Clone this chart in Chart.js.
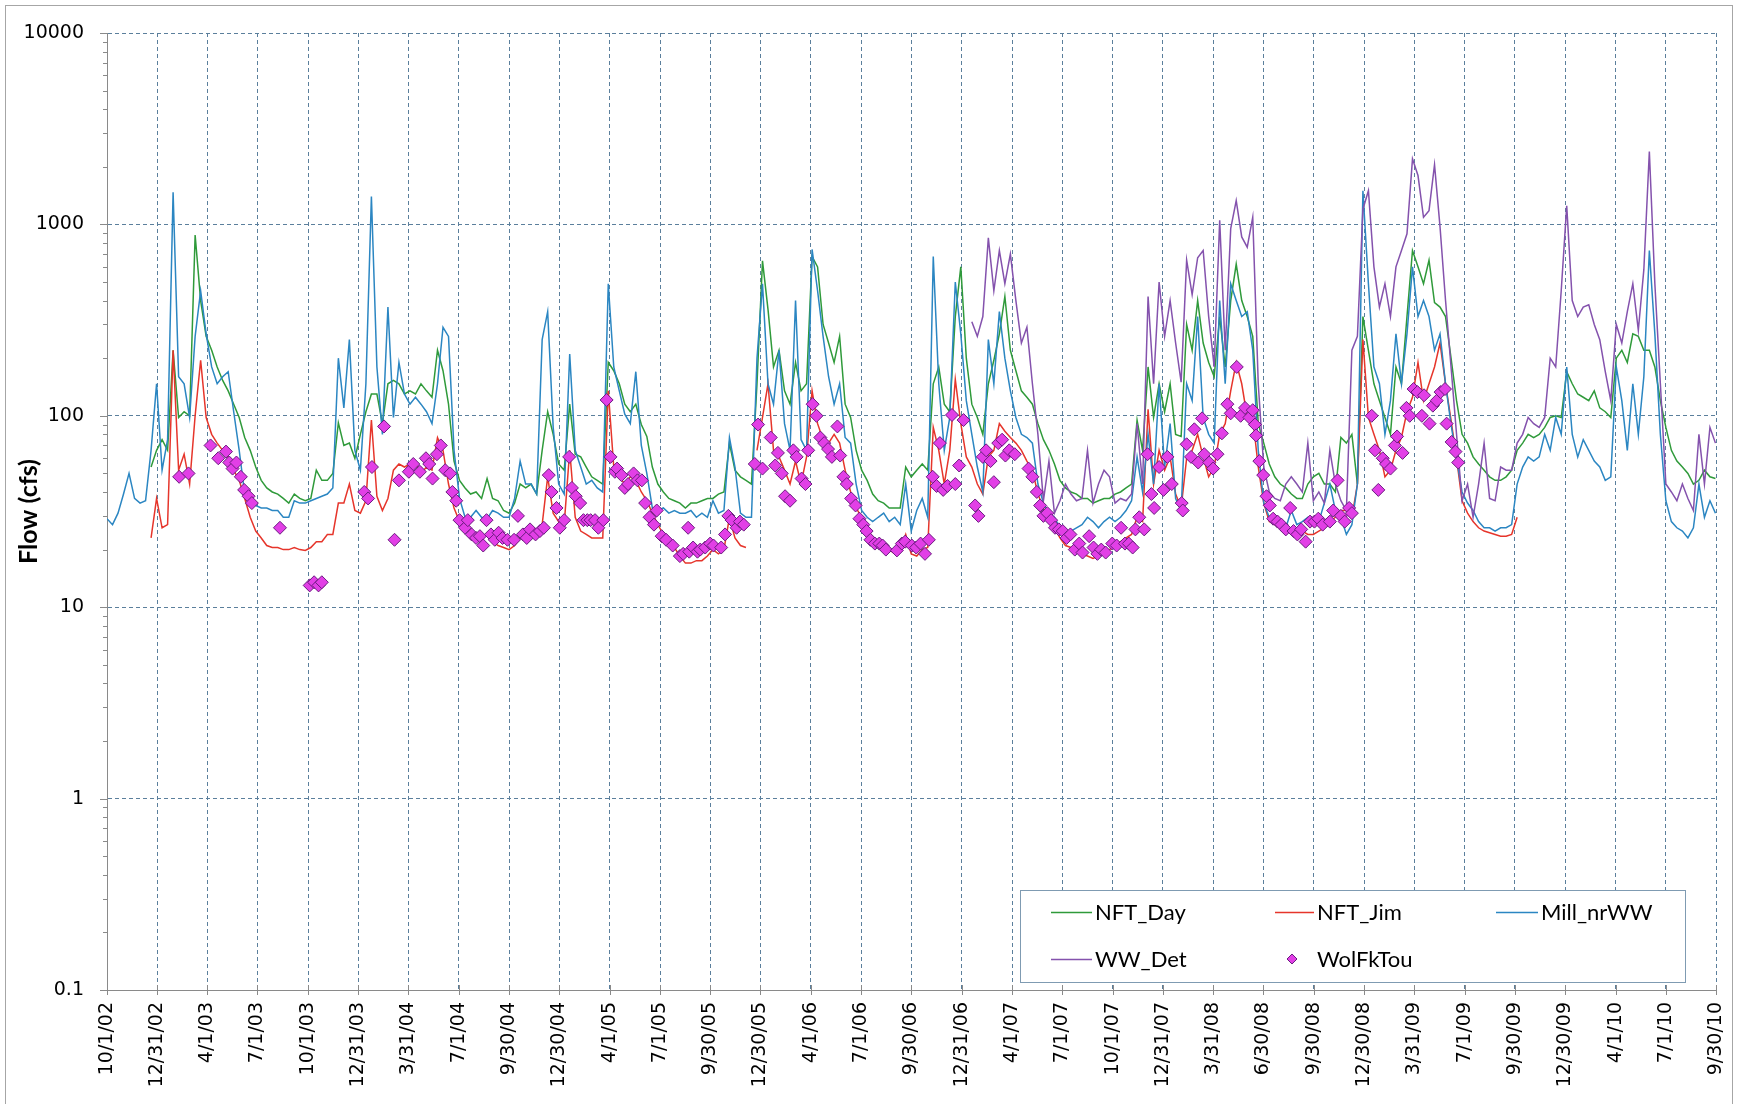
<!DOCTYPE html>
<html>
<head>
<meta charset="utf-8">
<title>Flow (cfs)</title>
<script src="https://cdn.jsdelivr.net/npm/chart.js@4.4.1/dist/chart.umd.min.js"></script>
<style>
  html, body { margin: 0; padding: 0; background: #fff; }
  canvas { display: block; }
</style>
</head>
<body>
<canvas id="flowChart" width="1738" height="1104"></canvas>
<script>
// x axis tick labels (quarterly)
const xTickLabels = ['10/1/02', '12/31/02', '4/1/03', '7/1/03', '10/1/03', '12/31/03', '3/31/04', '7/1/04', '9/30/04',
  '12/30/04', '4/1/05', '7/1/05', '9/30/05', '12/30/05', '4/1/06', '7/1/06', '9/30/06', '12/31/06', '4/1/07',
  '7/1/07', '10/1/07', '12/31/07', '3/31/08', '6/30/08', '9/30/08', '12/30/08', '3/31/09', '7/1/09', '9/30/09',
  '12/30/09', '4/1/10', '7/1/10', '9/30/10'];
const yTicks = [0.1, 1, 10, 100, 1000, 10000];

// sampled every 10 days from 10/1/02; each series starts at its own sample index
const SAMPLE_DAYS = 10;

const millStart = 0;
const millVals = [
  29, 27, 31, 39, 50, 37, 35, 36, 66, 147,
  52, 75, 1470, 160, 147, 98, 260, 450, 268, 180,
  147, 160, 170, 105, 66, 39, 35, 34, 33, 33,
  32, 32, 29.5, 29.5, 36, 35, 35, 36, 37, 38,
  39, 42, 200, 110, 250, 66, 52, 147, 1400, 180,
  80, 370, 98, 190, 130, 115, 125, 115, 105, 91,
  147, 290, 260, 66, 37, 29.5, 29.5, 32, 29.5, 29,
  32, 31, 29.5, 29.5, 37, 58, 44, 44, 39, 250,
  350, 87, 44, 39, 210, 66, 54, 44, 46, 42,
  40, 490, 180, 135, 102, 91, 170, 70, 50, 33,
  32, 33, 31, 32, 31, 31, 32, 29.5, 31, 29.5,
  36, 31, 32, 77, 54, 31, 29.5, 29.5, 200, 490,
  147, 115, 220, 91, 66, 400, 75, 66, 740, 450,
  260, 160, 115, 147, 77, 72, 44, 32, 29.5, 28,
  29.5, 31, 28, 29.5, 27, 44, 25, 32, 37, 29.5,
  680, 147, 66, 98, 500, 268, 120, 80, 54, 40,
  250, 147, 350, 200, 135, 98, 80, 77, 72, 44,
  35, 31, 29.5, 26, 24, 25, 26, 27, 29.5, 28,
  26, 28, 29.5, 28, 29.5, 32, 36, 61, 40, 80,
  44, 147, 54, 91, 37, 32, 147, 120, 330, 98,
  80, 72, 400, 147, 490, 400, 330, 350, 220, 66,
  35, 29.5, 28, 27, 26, 32, 27, 28, 29.5, 27,
  28, 35, 44, 32, 29.5, 24, 27, 44, 1500, 490,
  180, 147, 80, 120, 268, 147, 268, 600, 330, 400,
  330, 220, 268, 147, 90, 60, 40, 35, 32, 28,
  26, 26, 25, 26, 26, 27, 44, 54, 61, 58,
  61, 80, 66, 98, 80, 180, 80, 61, 75, 66,
  58, 54, 46, 48, 180, 120, 66, 147, 80, 160,
  730, 268, 80, 36, 28, 26, 25, 23, 26, 44,
  29.5, 36, 31
];

const nftDayStart = 8;
const nftDayVals = [
  54, 66,
  75, 66, 220, 98, 105, 100, 880, 400, 260, 220,
  180, 153, 135, 115, 98, 77, 66, 54, 46, 42,
  40, 39, 37, 35, 39, 37, 36, 37, 52, 46,
  46, 50, 92, 70, 72, 60, 80, 105, 130, 130,
  91, 147, 153, 147, 130, 135, 130, 147, 135, 125,
  220, 172, 115, 58, 46, 42, 39, 40, 37, 47,
  37, 36, 32, 31, 35, 44, 42, 44, 39, 66,
  105, 80, 56, 52, 115, 63, 61, 54, 48, 46,
  44, 190, 172, 147, 115, 105, 115, 90, 78, 54,
  44, 40, 37, 36, 35, 33, 35, 35, 36, 37,
  37, 39, 40, 72, 52, 48, 46, 44, 147, 645,
  360, 180, 220, 135, 115, 190, 135, 147, 680, 600,
  300, 240, 190, 260, 115, 98, 66, 52, 46, 39,
  36, 35, 33, 33, 33, 54, 48, 52, 56, 52,
  147, 180, 115, 105, 330, 600, 200, 115, 98, 80,
  147, 195, 268, 420, 220, 172, 135, 125, 115, 91,
  75, 66, 56, 46, 42, 40, 39, 37, 37, 35,
  36, 37, 37, 39, 40, 42, 44, 95, 66, 180,
  98, 147, 105, 147, 80, 78, 300, 220, 400, 240,
  190, 160, 330, 180, 400, 620, 400, 330, 260, 91,
  72, 56, 48, 44, 42, 39, 37, 37, 44, 48,
  50, 44, 44, 40, 77, 72, 80, 44, 330, 220,
  147, 120, 98, 80, 180, 147, 330, 730, 600, 490,
  650, 390, 370, 330, 200, 120, 80, 72, 61, 56,
  52, 48, 46, 46, 48, 52, 66, 72, 80, 77,
  80, 87, 98, 100, 98, 170, 147, 130, 125, 120,
  135, 110, 105, 98, 200, 220, 190, 268, 260, 220,
  220, 180, 120, 87, 66, 58, 54, 50, 44, 46,
  52, 48, 47
];

const nftJimStart = 8;
const nftJimVals = [
  23, 37,
  26, 27, 220, 52, 63, 44, 100, 195, 98, 80,
  72, 66, 61, 52, 46, 37, 29.5, 25, 23, 21,
  20.5, 20.5, 20, 20, 20.5, 20, 19.8, 20.5, 22, 22,
  24, 24, 35, 35, 44, 32, 31, 36, 95, 38,
  32, 37, 52, 56, 54, 56, 56, 50, 54, 52,
  77, 66, 44, 33, 28, 26, 24, 23, 23, 24,
  22, 21, 20.5, 20, 21, 23, 23, 24, 24, 27,
  48, 31, 28, 27, 66, 29.5, 25, 24, 23, 23,
  23, 135, 54, 48, 44, 48, 46, 40, 36, 31,
  27, 24, 22, 20.5, 18.5, 17, 17, 17.5, 17.5, 18.5,
  20, 19, 20, 29.5, 23, 21, 20.5, null, 66, 98,
  147, 66, 61, 52, 44, 58, 44, 61, 135, 91,
  75, 72, 80, 72, 52, 40, 33, 29.5, 26, 23,
  21, 20.5, 20, 19, 20, 24, 19, 18.5, 20, 20.5,
  87, 66, 44, 66, 155, 91, 61, 54, 44, 39,
  61, 66, 91, 83, 77, 72, 66, 58, 52, 39,
  33, 28, 26, 23, 21, 20.5, 20, 19, 18.5, 18,
  18.5, 19, 20, 21, 22, 23, 24, 29.5, 28, 108,
  44, 66, 52, 61, 39, 33, 60, 66, 80, 61,
  48, 54, 80, 91, 135, 190, 147, 98, 98, 54,
  35, 28, 27, 26, 25, 25, 24, 25, 24, 24,
  25, 26, 28, 29.5, 32, 32, 29.5, 44, 250, 98,
  80, 66, 48, 52, 66, 77, 105, 125, 190, 120,
  147, 180, 240, 147, 95, 60, 36, 31, 28, 26,
  25, 24.5, 24, 23.5, 23.5, 24, 29.5
];

const wwDetStart = 157;
const wwDetVals = [
  310, 260, 330,
  850, 450, 730, 490, 700, 400, 240, 290, 147, 80,
  36, 58, 31, 36, 44, 39, 36, 37, 66, 35,
  44, 52, 48, 35, 37, 36, 39, 91, 44, 420,
  147, 500, 260, 400, 240, 150, 650, 430, 670, 730,
  330, 180, 1050, 220, 950, 1330, 860, 760, 1090, 147,
  54, 40, 37, 36, 44, 48, 44, 40, 72, 36,
  40, 35, 66, 44, 36, 32, 220, 260, 1200, 1500,
  600, 370, 490, 330, 600, 730, 893, 2200, 1800, 1090,
  1180, 2050, 970, 400, 180, 80, 36, 44, 29.5, 44,
  72, 37, 36, 54, 52, 52, 72, 80, 98, 91,
  87, 98, 200, 180, 450, 1250, 400, 330, 370, 380,
  300, 250, 170, 120, 300, 240, 350, 490, 280, 580,
  2400, 490, 147, 44, 40, 36, 44, 37, 32, 80,
  44, 87, 72
];

// WolFkTou measurements: days after 10/1/02 and flow
const wolfDays = [
  131, 148, 188, 202, 216, 222, 228, 235, 243, 249, 257, 263, 314, 368, 376, 384, 390, 467, 474, 481,
  503, 522, 530, 548, 556, 568, 579, 585, 591, 599, 606, 614, 623, 627, 634, 640, 650, 655, 662, 670,
  677, 683, 689, 697, 704, 711, 718, 727, 739, 746, 755, 762, 768, 778, 786, 793, 802, 807, 816, 822,
  830, 839, 844, 851, 859, 865, 872, 878, 886, 892, 901, 907, 914, 922, 926, 934, 940, 946, 956, 963,
  971, 977, 985, 993, 998, 1007, 1015, 1027, 1040, 1046, 1055, 1057, 1064, 1072, 1077, 1086, 1095, 1101, 1115, 1122,
  1128, 1134, 1143, 1149, 1156, 1176, 1182, 1190, 1205, 1213, 1218, 1225, 1231, 1240, 1246, 1252, 1261, 1268, 1273, 1281,
  1288, 1295, 1302, 1309, 1316, 1326, 1331, 1337, 1343, 1351, 1359, 1366, 1373, 1379, 1386, 1394, 1402, 1408, 1414, 1434,
  1443, 1449,
  1461, 1469, 1477, 1485, 1492, 1499, 1506, 1512, 1518, 1526, 1534, 1540, 1547, 1555, 1576, 1582, 1590, 1596, 1604, 1610,
  1618, 1625, 1631, 1638, 1648, 1673, 1680, 1688, 1694, 1700, 1707, 1714, 1721, 1728, 1735, 1742, 1749, 1757, 1765, 1771,
  1783, 1791, 1798, 1805, 1813, 1825, 1833, 1841, 1848, 1855, 1862, 1867, 1874, 1883, 1889, 1896, 1901, 1910, 1918, 1925,
  1933,
  1951, 1953, 1960, 1968, 1974, 1981, 1988, 1992, 2001, 2008, 2016, 2024, 2034, 2040, 2051, 2058, 2066, 2074, 2080, 2084,
  2086, 2092, 2099, 2105, 2111, 2117, 2125, 2132, 2140, 2148, 2154, 2161, 2168, 2176, 2184, 2192, 2199, 2207, 2220, 2226,
  2234, 2240, 2247, 2255, 2260, 2296, 2302, 2308, 2316, 2322, 2330, 2338, 2342, 2352, 2359, 2365, 2372, 2379, 2387, 2391,
  2401, 2407, 2414, 2421, 2429, 2432, 2441, 2448, 2453
];
const wolfVals = [
  48, 50, 70, 60, 65, 57, 53, 57, 48, 41, 38, 35, 26, 13, 13.5, 13, 13.5, 40, 37, 54,
  88, 22.5, 46, 51, 56, 51, 60, 56, 47, 63, 70, 52, 50, 40, 36, 28.5, 26, 28.5, 24, 23,
  23.5, 21, 28.5, 24, 22.5, 24.5, 23, 22.5, 22.5, 30, 24, 23, 25.5, 24, 25, 26, 49, 40, 33, 26,
  28.5, 61, 42, 38, 35, 28.5, 28.5, 28.5, 28.5, 26, 28.5, 121, 61, 51, 53, 49, 42, 44, 50, 46,
  46, 35, 29.5, 27, 32, 23.5, 22.5, 21, 18.5, 19, 26, 19.5, 20.5, 19.5, 20, 20.5, 21.5, 21, 20.5, 24,
  30, 28.5, 26, 28, 27, 56, 90, 53, 77, 55, 64, 50, 38, 36, 66, 61, 47, 44, 66, 115,
  100, 77, 72, 67, 61, 88, 62, 48, 44, 37, 34, 29, 27, 25, 22.5, 21.5, 21.5, 21, 20, 19.8,
  21.5, 22,
  21, 20.5, 21.5, 19, 22.5, 48, 43, 72, 41, 43, 101, 44, 55, 95, 34, 30, 61, 66, 58, 45,
  72, 75, 62, 66, 63, 53, 48, 40, 34, 30, 31, 28.5, 26, 25.5, 25, 23, 24, 20, 21.5, 19.3,
  23.5, 20.5, 19, 20, 19.3, 21.5, 21, 26, 21.5, 21.5, 20.5, 25.5, 29.5, 25.5, 63, 39, 33, 54, 41, 61,
  44,
  35, 32, 71, 61, 85, 57, 97, 63, 57, 53, 63, 81, 115, 103, 180, 100, 110, 98, 107, 90,
  79, 58, 49, 38, 34, 29, 28, 27, 25.5, 33, 25, 24, 25.5, 22, 28, 28, 29, 27, 28, 32,
  46, 30, 28, 33, 31, 100, 66, 41, 60, 56, 53, 70, 78, 64, 110, 100, 138, 133, 100, 128,
  91, 113, 120, 133, 138, 91, 73, 65, 57
];

// helpers
function dayOf(label) {
  const [m, d, y] = label.split('/').map(Number);
  return Math.round((Date.UTC(2000 + y, m - 1, d) - Date.UTC(2002, 9, 1)) / 86400000);
}
function toPoints(start, vals) {
  return vals.map((v, i) => ({ x: (start + i) * SAMPLE_DAYS, y: v }));
}

const GRID = '#5b7f9c';
const AXIS = '#8a8a8a';
const TICK_FONT = { family: 'DejaVu Sans', size: 19 };

const lineDs = (label, color, data, order) => ({
  label, data, borderColor: color, backgroundColor: color, borderWidth: 1.5,
  pointRadius: 0, fill: false, spanGaps: false, order
});

const datasets = [
  lineDs('NFT_Day', '#2f9a3a', toPoints(nftDayStart, nftDayVals), 4),
  lineDs('NFT_Jim', '#e6352b', toPoints(nftJimStart, nftJimVals), 3),
  lineDs('Mill_nrWW', '#2b86c2', toPoints(millStart, millVals), 2),
  lineDs('WW_Det', '#8452ad', toPoints(wwDetStart, wwDetVals), 1),
  {
    label: 'WolFkTou', data: wolfDays.map((d, i) => ({ x: d, y: wolfVals[i] })),
    showLine: false, pointStyle: 'rectRot', pointRadius: 6.5, pointBorderWidth: 1,
    pointBackgroundColor: '#e23fe6', pointBorderColor: '#6b1c80', order: 0
  }
];

// frame, axis tick marks, y title and the legend box
const decor = {
  id: 'decor',
  beforeDraw(chart) {
    const { ctx, width, height } = chart;
    ctx.save();
    ctx.fillStyle = '#fff';
    ctx.fillRect(0, 0, width, height);
    ctx.strokeStyle = '#a6a6a6';
    ctx.lineWidth = 1;
    ctx.strokeRect(5.5, 5.5, width - 11, height + 20);
    ctx.restore();
  },
  afterDraw(chart) {
    const { ctx, chartArea: a, scales } = chart;
    ctx.save();
    ctx.strokeStyle = AXIS;
    ctx.lineWidth = 1;
    ctx.beginPath();
    // y ticks: decades outside, minor ticks shorter
    yTicks.forEach((dec, i) => {
      const py = Math.round(scales.y.getPixelForValue(dec)) + 0.5;
      ctx.moveTo(a.left - 7, py); ctx.lineTo(a.left, py);
      if (i < yTicks.length - 1) {
        for (let m = 2; m <= 9; m++) {
          const my = Math.round(scales.y.getPixelForValue(dec * m)) + 0.5;
          ctx.moveTo(a.left - 4, my); ctx.lineTo(a.left, my);
        }
      }
    });
    // x ticks cross the axis
    scales.x.ticks.forEach(t => {
      const px = Math.round(scales.x.getPixelForValue(t.value)) + 0.5;
      ctx.moveTo(px, a.bottom - 5); ctx.lineTo(px, a.bottom + 5);
    });
    ctx.stroke();

    // y axis title
    ctx.save();
    ctx.translate(29, (a.top + a.bottom) / 2);
    ctx.rotate(-Math.PI / 2);
    ctx.fillStyle = '#000';
    ctx.font = 'bold 25px Lato';
    ctx.textAlign = 'center';
    ctx.textBaseline = 'middle';
    ctx.fillText('Flow (cfs)', 0, 0);
    ctx.restore();

    // legend
    const box = { x: 1020, y: 890, w: 665, h: 92 };
    ctx.fillStyle = '#fff';
    ctx.fillRect(box.x, box.y, box.w, box.h);
    ctx.strokeStyle = '#7f9bb2';
    ctx.strokeRect(box.x + 0.5, box.y + 0.5, box.w, box.h);
    const slots = [
      { lx: 1051, tx: 1095, y: 912 }, { lx: 1275, tx: 1317, y: 912 }, { lx: 1496, tx: 1541, y: 912 },
      { lx: 1051, tx: 1095, y: 959 }, { lx: 1275, tx: 1317, y: 959 }
    ];
    ctx.font = '22px Lato';
    ctx.textBaseline = 'middle';
    ctx.textAlign = 'left';
    chart.data.datasets.forEach((ds, i) => {
      const s = slots[i];
      if (ds.showLine === false) {
        const cx = 1292, r = 5;
        ctx.beginPath();
        ctx.moveTo(cx, s.y - r); ctx.lineTo(cx + r, s.y); ctx.lineTo(cx, s.y + r); ctx.lineTo(cx - r, s.y);
        ctx.closePath();
        ctx.fillStyle = ds.pointBackgroundColor;
        ctx.fill();
        ctx.strokeStyle = ds.pointBorderColor;
        ctx.stroke();
      } else {
        ctx.strokeStyle = ds.borderColor;
        ctx.lineWidth = 1.5;
        ctx.beginPath();
        ctx.moveTo(s.lx, s.y + 0.5); ctx.lineTo(s.tx - 3, s.y + 0.5);
        ctx.stroke();
        ctx.lineWidth = 1;
      }
      ctx.fillStyle = '#000';
      ctx.fillText(ds.label, s.tx, s.y + 1);
    });
    ctx.restore();
  }
};

const ctx = document.getElementById('flowChart').getContext('2d');
const flowChart = new Chart(ctx, {
  type: 'line',
  data: { datasets },
  options: {
    responsive: false,
    animation: false,
    devicePixelRatio: 1,
    layout: { padding: { top: 33, right: 22, left: 0, bottom: 0 } },
    plugins: { legend: { display: false }, tooltip: { enabled: false } },
    elements: { line: { tension: 0 } },
    scales: {
      x: {
        type: 'linear',
        min: 0,
        max: dayOf(xTickLabels[xTickLabels.length - 1]),
        afterBuildTicks: s => { s.ticks = xTickLabels.map(l => ({ value: dayOf(l) })); },
        afterFit: s => { s.height = 114; s.paddingLeft = 0; s.paddingRight = 0; },
        ticks: {
          autoSkip: false, minRotation: 90, maxRotation: 90, padding: 12,
          color: '#000', font: TICK_FONT,
          callback: (v, i) => xTickLabels[i]
        },
        grid: { color: GRID, lineWidth: 1, drawTicks: false },
        border: { display: true, color: AXIS, width: 1, dash: [4, 3] }
      },
      y: {
        type: 'logarithmic',
        min: 0.1,
        max: 10000,
        afterBuildTicks: s => { s.ticks = yTicks.map(v => ({ value: v })); },
        afterFit: s => { s.width = 107; s.paddingTop = 0; s.paddingBottom = 0; },
        ticks: {
          padding: 23, color: '#000', font: TICK_FONT,
          callback: v => String(v)
        },
        grid: { color: GRID, lineWidth: 1, drawTicks: false },
        border: { display: true, color: AXIS, width: 1, dash: [4, 3] }
      }
    }
  },
  plugins: [decor]
});
</script>
</body>
</html>
